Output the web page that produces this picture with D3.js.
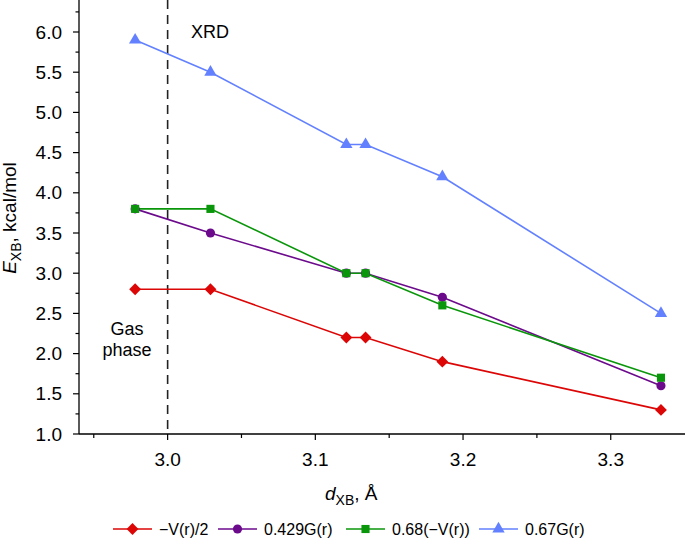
<!DOCTYPE html>
<html><head><meta charset="utf-8">
<script src="https://cdn.jsdelivr.net/npm/d3@7"></script>
<style>body{margin:0;background:#fff}svg{display:block;font-family:"Liberation Sans",Arial,sans-serif}</style>
</head><body>
<svg id="c" width="685" height="538"></svg>
<script>
const distances = [2.978, 3.029, 3.121, 3.134, 3.186, 3.334];
const seriesNames = ["\u2212V(r)/2", "0.429G(r)", "0.68(\u2212V(r))", "0.67G(r)"];
const redValues = [2.8, 2.8, 2.2, 2.2, 1.9, 1.3];
const purpleValues = [3.8, 3.5, 3.0, 3.0, 2.7, 1.6];
const greenValues = [3.8, 3.8, 3.0, 3.0, 2.6, 1.7];
const blueValues = [5.9, 5.5, 4.6, 4.6, 4.2, 2.5];
const xTicks = [3.0, 3.1, 3.2, 3.3];
const yTicks = [1.0, 1.5, 2.0, 2.5, 3.0, 3.5, 4.0, 4.5, 5.0, 5.5, 6.0];

const colors = ["#dc0606", "#6c0a8c", "#0a960a", "#6381ff"];
const symbols = [d3.symbolSquare, d3.symbolCircle, d3.symbolSquare, d3.symbolTriangle];
const symRot = [45, 0, 0, 0];
const symSizes = [70, 66, 66, 66];
const allValues = [redValues, purpleValues, greenValues, blueValues];

const svg = d3.select("#c");
const x = d3.scaleLinear().domain([2.94, 3.35]).range([79, 684.6]);
const y = d3.scaleLinear().domain([1.0, 6.0]).range([434, 32]);

// axes
const yAxisG = svg.append("g").attr("transform", "translate(79,0)");
yAxisG.append("line").attr("x1",0).attr("x2",0).attr("y1",0).attr("y2",y(1.0)).attr("stroke","#000").attr("stroke-width",1.3);
yAxisG.selectAll(".ymaj").data(yTicks).enter().append("line")
  .attr("x1",-6).attr("x2",0).attr("y1",d=>y(d)).attr("y2",d=>y(d)).attr("stroke","#000").attr("stroke-width",1.2);
yAxisG.selectAll(".ymin").data(d3.range(1.25, 6.3, 0.5)).enter().append("line")
  .attr("x1",-3.5).attr("x2",0).attr("y1",d=>y(d)).attr("y2",d=>y(d)).attr("stroke","#000").attr("stroke-width",1.2);
yAxisG.selectAll(".ylab").data(yTicks).enter().append("text")
  .attr("x",-17).attr("y",d=>y(d)).attr("dy","0.35em").attr("text-anchor","end")
  .attr("font-size",19).text(d=>d3.format(".1f")(d));

const xAxisG = svg.append("g").attr("transform", `translate(0,${y(1.0)})`);
xAxisG.append("line").attr("x1",79).attr("x2",685).attr("y1",0).attr("y2",0).attr("stroke","#000").attr("stroke-width",1.3);
xAxisG.selectAll(".xmaj").data(xTicks).enter().append("line")
  .attr("x1",d=>x(d)).attr("x2",d=>x(d)).attr("y1",0).attr("y2",6).attr("stroke","#000").attr("stroke-width",1.2);
xAxisG.selectAll(".xmin").data([2.95, 3.05, 3.15, 3.25]).enter().append("line")
  .attr("x1",d=>x(d)).attr("x2",d=>x(d)).attr("y1",0).attr("y2",4).attr("stroke","#000").attr("stroke-width",1.2);
xAxisG.selectAll(".xlab").data(xTicks).enter().append("text")
  .attr("x",d=>x(d)).attr("y",32).attr("text-anchor","middle")
  .attr("font-size",19).text(d=>d3.format(".1f")(d));

// dashed line at 3.0
svg.append("line").attr("x1",x(3.0)).attr("x2",x(3.0)).attr("y1",0).attr("y2",y(1.0))
  .attr("stroke","#222").attr("stroke-width",1.6).attr("stroke-dasharray","9,6");

svg.append("text").attr("x",191).attr("y",38).attr("font-size",18).text("XRD");
svg.append("text").attr("x",127).attr("y",335).attr("text-anchor","middle").attr("font-size",18).text("Gas");
svg.append("text").attr("x",127).attr("y",356).attr("text-anchor","middle").attr("font-size",18).text("phase");

// axis titles
const yt = svg.append("text").attr("transform","translate(16,218) rotate(-90)").attr("text-anchor","middle").attr("font-size",19);
yt.append("tspan").attr("font-style","italic").text("E");
yt.append("tspan").attr("font-size",14).attr("dy",5).text("XB");
yt.append("tspan").attr("dy",-5).text(", kcal/mol");

const xt = svg.append("text").attr("x",325).attr("y",500).attr("font-size",19);
xt.append("tspan").attr("font-style","italic").text("d");
xt.append("tspan").attr("font-size",14).attr("dy",5).text("XB");
xt.append("tspan").attr("dy",-5).text(", \u00c5");

// series
const line = d3.line().x(d=>x(d[0])).y(d=>y(d[1]));
allValues.forEach((vals, i) => {
  const pts = distances.map((d, j) => [d, vals[j]]);
  svg.append("path").datum(pts).attr("d", line).attr("fill","none").attr("stroke",colors[i]).attr("stroke-width",1.6);
});
allValues.forEach((vals, i) => {
  const pts = distances.map((d, j) => [d, vals[j]]);
  svg.selectAll(".m"+i).data(pts).enter().append("path")
    .attr("transform", d => `translate(${x(d[0])},${y(d[1])}) rotate(${symRot[i]})`)
    .attr("d", d3.symbol().type(symbols[i]).size(symSizes[i]))
    .attr("fill", colors[i]);
});

// legend
const legX = [113, 218, 346, 479];
const legY = 529;
seriesNames.forEach((name, i) => {
  const g = svg.append("g").attr("transform", `translate(${legX[i]},${legY})`);
  g.append("line").attr("x1",0).attr("x2",39).attr("y1",0).attr("y2",0).attr("stroke",colors[i]).attr("stroke-width",1.6);
  g.append("path").attr("transform", `translate(19.5,0) rotate(${symRot[i]})`)
    .attr("d", d3.symbol().type(symbols[i]).size(symSizes[i])).attr("fill", colors[i]);
  g.append("text").attr("x",46).attr("y",0).attr("dy","0.36em").attr("font-size",16).text(name);
});
</script>
</body></html>
